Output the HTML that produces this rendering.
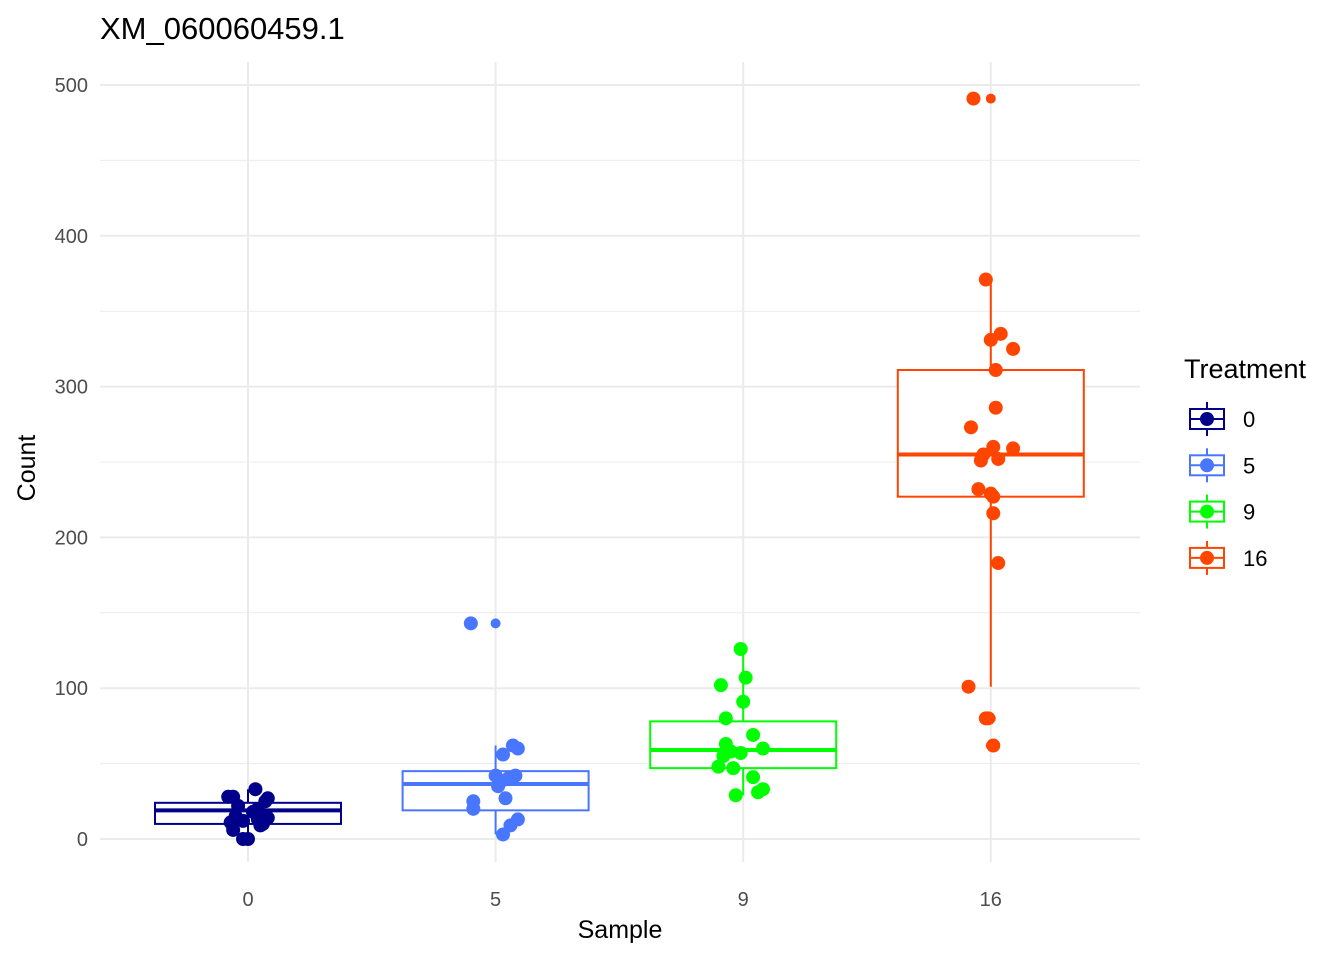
<!DOCTYPE html>
<html><head><meta charset="utf-8"><style>
body{margin:0;background:#fff;font-family:"Liberation Sans",sans-serif;}
svg text{font-family:"Liberation Sans",sans-serif;}
</style></head><body>
<svg id="chart" width="1344" height="960" xmlns="http://www.w3.org/2000/svg">
<text x="100" y="39" font-size="31" fill="#000">XM_060060459.1</text>
<g id="grid"></g>
<g id="plot"></g>
<g id="axes"></g>
<text x="620" y="938" font-size="25" text-anchor="middle">Sample</text>
<text transform="translate(35,468) rotate(-90)" font-size="25" text-anchor="middle">Count</text>
<g id="legend"></g>
</svg>
<script>
const categories=["0","5","9","16"];
const colors=["#00008B","#4876FF","#00FF00","#FF4500"];
const q1=[10,19,47,227];
const med=[19,36.5,59,255];
const q3=[24,45,78,311];
const whiskLo=[0,3,29,101];
const whiskHi=[33,62,126,371];
const outliers=[[],[143],[],[491,80,62]];
const pts0=[28,28,33,27,22,20,15,14,12,10,9,6,0,0,18,25,13,11];
const jit0=[-0.08,-0.06,0.03,0.08,-0.04,0.04,-0.05,0.08,-0.02,0.06,0.05,-0.06,-0.02,0.0,0.02,0.07,0.04,-0.07];
const pts5=[143,62,60,56,42,42,40,38,35,27,25,20,13,9,3];
const jit5=[-0.1,0.07,0.09,0.03,0.0,0.08,0.05,0.02,0.01,0.04,-0.09,-0.09,0.09,0.06,0.03];
const pts9=[126,107,102,91,80,69,63,60,58,57,55,48,47,41,33,31,29];
const jit9=[-0.01,0.01,-0.09,0.0,-0.07,0.04,-0.07,0.08,-0.05,-0.01,-0.08,-0.1,-0.04,0.04,0.08,0.06,-0.03];
const pts16=[491,371,335,331,325,311,286,273,260,259,255,251,252,232,229,227,216,183,101,80,80,62];
const jit16=[-0.07,-0.02,0.04,0.0,0.09,0.02,0.02,-0.08,0.01,0.09,-0.03,-0.04,0.03,-0.05,0.0,0.01,0.01,0.03,-0.09,-0.02,-0.01,0.01];
const points=[pts0,pts5,pts9,pts16];
const jitters=[jit0,jit5,jit9,jit16];
const yTicks=[0,100,200,300,400,500];
const yMinor=[50,150,250,350,450];

const NS="http://www.w3.org/2000/svg";
const L=100,R=1140,T=62,B=862;
const y=v=>839-v*(839-85)/500;
const xc=i=>248+i*247.6;
const bw=186/247.6;
function mk(tag,attrs,parent){const e=document.createElementNS(NS,tag);for(const k in attrs)e.setAttribute(k,attrs[k]);parent.appendChild(e);return e;}
const grid=document.getElementById('grid'),plot=document.getElementById('plot'),axes=document.getElementById('axes'),leg=document.getElementById('legend');
yMinor.forEach(v=>{const l=mk('line',{x1:L,x2:R,y1:y(v),y2:y(v),stroke:'#ebebeb','stroke-width':1},grid);
});
yTicks.forEach(v=>{const l=mk('line',{x1:L,x2:R,y1:y(v),y2:y(v),stroke:'#ebebeb','stroke-width':2},grid);

const t=mk('text',{x:88,y:y(v)+7,'font-size':20,fill:'#4d4d4d','text-anchor':'end'},axes);t.textContent=v;
});
categories.forEach((c,i)=>{const l=mk('line',{x1:xc(i),x2:xc(i),y1:T,y2:B,stroke:'#ebebeb','stroke-width':2},grid);

const t=mk('text',{x:xc(i),y:906,'font-size':20,fill:'#4d4d4d','text-anchor':'middle'},axes);t.textContent=c;
});
categories.forEach((c,i)=>{
 const col=colors[i],cx=xc(i),hw=bw*247.6/2;
 const g=mk('g',{},plot);
 mk('line',{x1:cx,x2:cx,y1:y(q3[i]),y2:y(whiskHi[i]),stroke:col,'stroke-width':2},g);
 mk('line',{x1:cx,x2:cx,y1:y(q1[i]),y2:y(whiskLo[i]),stroke:col,'stroke-width':2},g);
 mk('rect',{x:cx-hw,y:y(q3[i]),width:2*hw,height:y(q1[i])-y(q3[i]),fill:'#fff',stroke:col,'stroke-width':2},g);
 mk('line',{x1:cx-hw,x2:cx+hw,y1:y(med[i]),y2:y(med[i]),stroke:col,'stroke-width':4},g);
 outliers[i].forEach(v=>{const o=mk('circle',{cx:cx,cy:y(v),r:5,fill:col},g);
 });
 points[i].forEach((v,j)=>{const p=mk('circle',{cx:cx+jitters[i][j]*247.6,cy:y(v),r:7,fill:col},g);
 });
});
const lt=mk('text',{x:1184,y:378,'font-size':27},leg);lt.textContent='Treatment';

categories.forEach((c,i)=>{const cy=419+i*46.3,col=colors[i];
 const g=mk('g',{},leg);
 mk('line',{x1:1207,x2:1207,y1:cy-17,y2:cy+17,stroke:col,'stroke-width':2},g);
 mk('rect',{x:1190,y:cy-10,width:34,height:20,fill:'#fff',stroke:col,'stroke-width':2},g);
 mk('line',{x1:1190,x2:1224,y1:cy,y2:cy,stroke:col,'stroke-width':2},g);
 mk('circle',{cx:1207,cy:cy,r:7,fill:col},g);
 const t=mk('text',{x:1243,y:cy+8,'font-size':22},g);t.textContent=c;});
</script>
</body></html>
